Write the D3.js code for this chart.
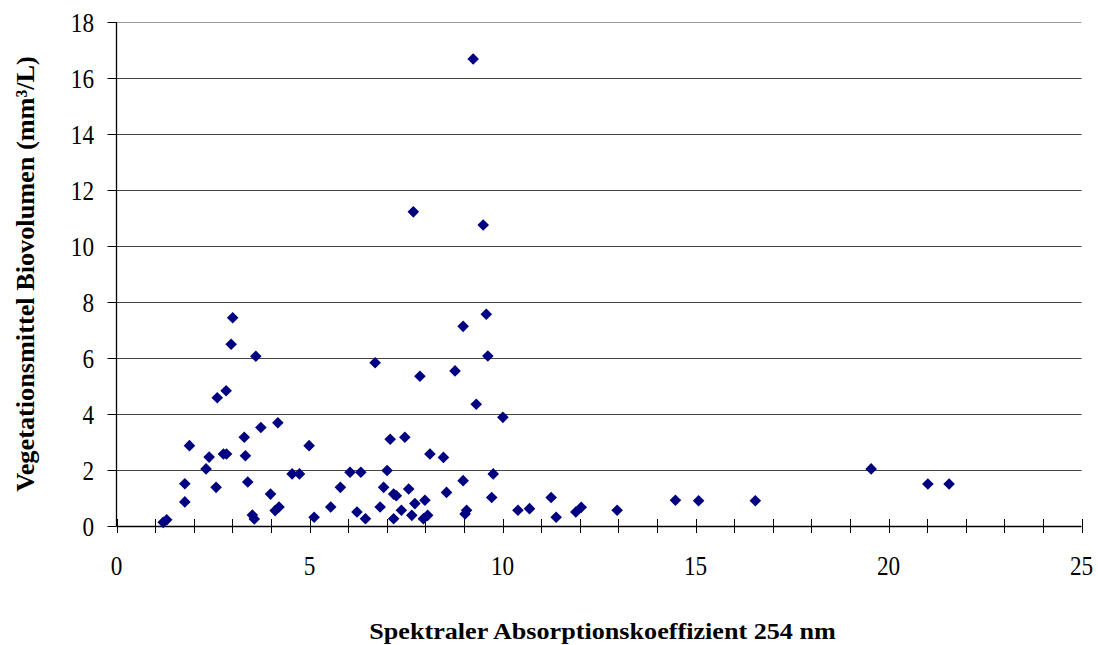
<!DOCTYPE html>
<html>
<head>
<meta charset="utf-8">
<script src="https://cdn.jsdelivr.net/npm/d3@7"></script>
<style>
html,body{margin:0;padding:0;background:#fff;}
svg{display:block;}
text{font-family:"Liberation Serif","Times New Roman",serif;fill:#000;}
</style>
</head>
<body>
<svg id="chart" width="1098" height="645"></svg>
<script>
const xValues = [1.21,1.30,1.77,1.77,1.89,2.32,2.40,2.58,2.61,2.77,2.85,2.84,2.97,3.01,3.31,3.34,3.40,3.52,3.57,3.61,3.74,3.99,4.11,4.21,4.18,4.55,4.74,4.99,5.12,5.55,5.80,6.05,6.33,6.23,6.45,6.70,6.83,6.92,7.01,7.09,7.18,7.25,7.18,7.38,7.47,7.57,7.65,7.73,7.86,7.99,7.95,8.06,8.12,8.47,8.55,8.77,8.98,8.98,9.03,9.07,9.32,9.58,9.62,9.72,9.76,10.01,10.40,10.70,11.26,11.39,11.90,12.04,12.97,14.48,15.08,16.55,19.55,21.02,21.57,9.24,7.69,9.50];
const yValues = [0.13,0.22,0.86,1.51,2.87,2.04,2.46,1.38,4.58,2.57,2.57,4.83,6.49,7.44,3.17,2.51,1.57,0.39,0.25,6.06,3.52,1.14,0.55,0.68,3.69,1.86,1.86,2.87,0.31,0.68,1.38,1.92,1.92,0.50,0.26,5.83,0.68,1.38,1.98,3.10,1.14,1.08,0.26,0.56,3.17,1.32,0.38,0.80,5.35,0.92,0.26,0.38,2.57,2.45,1.20,5.54,7.13,1.62,0.43,0.56,4.35,7.56,6.07,1.02,1.86,3.88,0.56,0.62,1.02,0.31,0.50,0.67,0.56,0.92,0.90,0.90,2.04,1.50,1.50,16.68,11.22,10.75];
const xTickLabels = [0,5,10,15,20,25];
const xMinorTicks = d3.range(0,26,1);
const yTickLabels = [0,2,4,6,8,10,12,14,16,18];
const xTitle = "Spektraler Absorptionskoeffizient 254 nm";
const yTitle = "Vegetationsmittel Biovolumen (mm³/L)";

const svg = d3.select("#chart");
const pL = 116.5, pR = 1081.5, pT = 22, pB = 526;
const x = d3.scaleLinear().domain([0,25]).range([pL,pR]);
const y = d3.scaleLinear().domain([0,18]).range([pB,pT]);

// gridlines
svg.append("g").selectAll("line").data(yTickLabels.filter(d=>d>0)).join("line")
  .attr("x1",pL).attr("x2",pR)
  .attr("y1",d=>Math.round(y(d))+0.5).attr("y2",d=>Math.round(y(d))+0.5)
  .attr("stroke",d=>d===18?"#9a9a9a":"#444").attr("stroke-width",1);

// y axis
svg.append("line").attr("x1",pL).attr("x2",pL).attr("y1",pT).attr("y2",pB)
  .attr("stroke","#000").attr("stroke-width",1.3);
svg.append("g").selectAll("line").data(yTickLabels).join("line")
  .attr("x1",pL-9).attr("x2",pL)
  .attr("y1",d=>Math.round(y(d))+0.5).attr("y2",d=>Math.round(y(d))+0.5)
  .attr("stroke","#000").attr("stroke-width",1);
svg.append("g").selectAll("text").data(yTickLabels).join("text")
  .attr("transform",d=>`translate(94,${y(d)+9.7}) scale(0.86,1)`)
  .attr("text-anchor","end").attr("font-size",27)
  .text(d=>d);

// x axis
svg.append("line").attr("x1",pL).attr("x2",pR).attr("y1",pB+0.5).attr("y2",pB+0.5)
  .attr("stroke","#000").attr("stroke-width",1.3);
svg.append("g").selectAll("line").data(xMinorTicks).join("line")
  .attr("x1",d=>Math.round(x(d))+0.5).attr("x2",d=>Math.round(x(d))+0.5)
  .attr("y1",pB-7).attr("y2",pB+7)
  .attr("stroke","#000").attr("stroke-width",1);
svg.append("g").selectAll("text").data(xTickLabels).join("text")
  .attr("transform",d=>`translate(${x(d)},575) scale(0.86,1)`)
  .attr("text-anchor","middle").attr("font-size",27)
  .text(d=>d);

// points
svg.append("g").selectAll("path").data(xValues.map((v,i)=>[v,yValues[i]])).join("path")
  .attr("transform",d=>`translate(${x(d[0])},${y(d[1])})`)
  .attr("d","M0,-5.8L5.8,0L0,5.8L-5.8,0Z")
  .attr("fill","#000080");

// titles
svg.append("text").attr("transform",`translate(602.5,638.5) scale(1.09,1)`)
  .attr("text-anchor","middle").attr("font-size",24).attr("font-weight","bold")
  .text(xTitle);
svg.append("text").attr("transform",`translate(34,274) rotate(-90) scale(1.01,1)`)
  .attr("text-anchor","middle").attr("font-size",26).attr("font-weight","bold")
  .text(yTitle);
</script>
</body>
</html>
